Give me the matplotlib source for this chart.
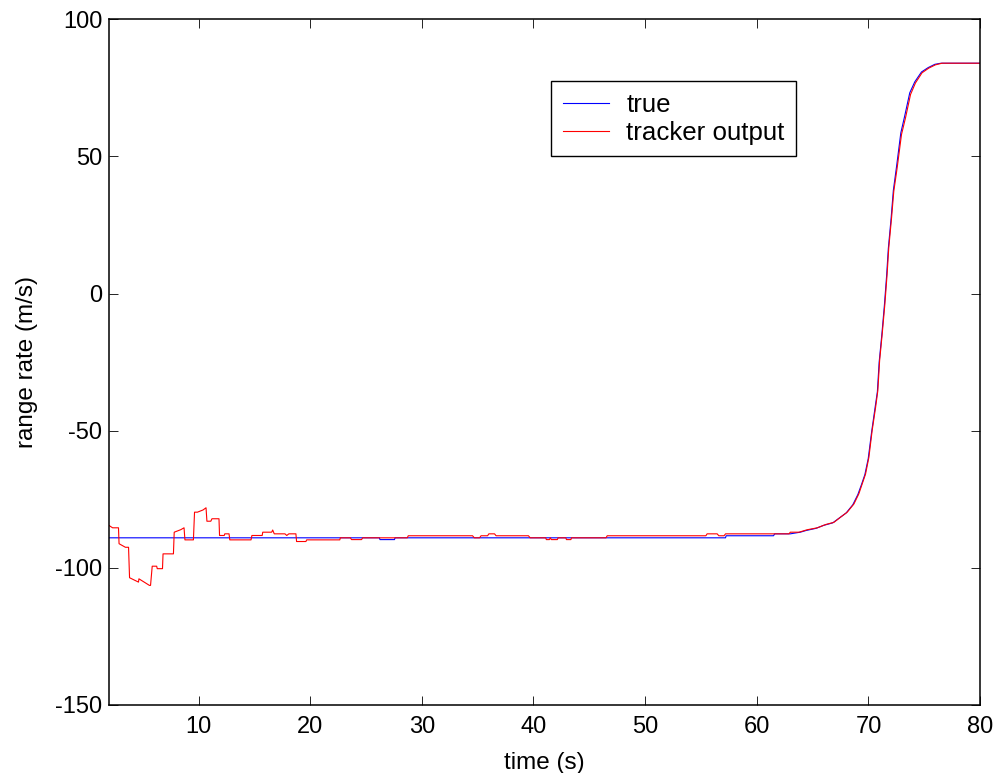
import matplotlib
matplotlib.use("Agg")
import matplotlib.pyplot as plt

plt.rcParams['font.family'] = ['Liberation Sans', 'DejaVu Sans']
plt.rcParams['axes.unicode_minus'] = False

# tracker output (time s, range rate m/s)
t_track = [2.0, 2.3, 2.83, 2.88, 3.45, 3.73, 3.82, 4.62, 4.66, 5.6, 5.7, 5.85, 6.25, 6.3, 6.77, 6.82,
           7.75, 7.82, 8.4, 8.7, 8.78, 9.54, 9.64, 9.9, 10.4, 10.67, 10.75, 11.1, 11.2, 11.83, 11.88,
           12.3, 12.35, 12.73, 12.8, 14.70, 14.78, 15.70, 15.75, 16.55, 16.64, 16.78, 17.74, 17.9,
           18.09, 18.72, 18.78, 19.62, 19.68, 22.65, 22.7, 23.6, 23.7, 24.6, 24.7, 28.7, 28.78, 34.54,
           34.7, 35.17, 35.3, 35.89, 36.0, 36.51, 36.65, 39.55, 39.7, 41.1, 41.15, 41.43, 41.5, 41.6,
           42.14, 42.2, 42.9, 42.95, 43.35, 43.4, 46.5, 46.6, 55.44, 55.55, 56.45, 56.6, 57.07, 57.2,
           62.89, 63.0, 63.78, 64.52, 65.42, 66.17, 66.91, 67.51, 68.10, 68.70, 69.14, 69.44, 69.74,
           70.04, 70.33, 70.64, 70.84, 71.0, 71.23, 71.47, 71.67, 71.82, 72.07, 72.27, 72.57, 72.96,
           73.32, 73.77, 74.21, 74.80, 75.40, 76.0, 76.59, 80.0]
r_track = [-84.6, -85.4, -85.4, -91.2, -92.5, -92.5, -103.6, -105.2, -104.0, -106.4, -106.4, -99.4,
           -99.4, -100.3, -100.3, -94.9, -94.9, -87.0, -86.1, -85.4, -89.8, -89.8, -79.7, -79.7,
           -78.9, -78.1, -83.0, -83.0, -82.1, -82.1, -88.2, -88.2, -87.6, -87.6, -89.8, -89.8, -88.2,
           -88.2, -87.0, -87.0, -86.2, -87.6, -87.6, -88.2, -87.6, -87.6, -90.4, -90.4, -89.8, -89.8,
           -89.05, -89.05, -89.7, -89.7, -89.05, -89.05, -88.3, -88.3, -89.05, -89.05, -88.3, -88.3,
           -87.6, -87.6, -88.3, -88.3, -89.05, -89.05, -89.7, -89.7, -89.05, -89.7, -89.7, -89.05,
           -89.05, -89.7, -89.7, -89.05, -89.05, -88.3, -88.3, -87.6, -87.6, -88.3, -88.3, -87.6,
           -87.6, -87.0, -87.0, -86.1, -85.4, -84.2, -83.4, -81.5, -79.7, -76.7, -73.0, -69.4, -65.8,
           -59.7, -50.0, -41.5, -35.4, -24.5, -14.8, -3.9, 7.0, 16.7, 27.6, 37.3, 45.8, 58.0,
           64.1, 72.6, 76.8, 80.5, 82.2, 83.4, 84.0, 84.0]

# true range rate
t_true = [2.0, 26.2, 26.25, 27.55, 27.6, 57.2, 57.25, 61.5, 61.6, 63.0, 63.9, 64.4, 65.3, 66.0, 66.8,
          67.4, 68.0, 68.6, 69.05, 69.38, 69.68, 69.98, 70.28, 70.58, 70.8, 70.96, 71.2, 71.43, 71.63,
          71.78, 72.03, 72.23, 72.52, 72.9, 73.25, 73.7, 74.15, 74.75, 75.35, 75.95, 76.5, 80.0]
r_true = [-89.05, -89.05, -89.7, -89.7, -89.05, -89.05, -88.3, -88.3, -87.6, -87.6, -87.0, -86.4,
          -85.6, -84.5, -83.6, -81.8, -80.0, -77.0, -73.3, -69.6, -66.0, -60.2, -50.6, -42.0, -35.8,
          -25.0, -15.0, -4.2, 6.6, 16.4, 27.4, 37.6, 46.4, 58.6, 64.8, 73.2, 77.2, 80.8, 82.4, 83.6,
          84.0, 84.0]

x_ticks = [10, 20, 30, 40, 50, 60, 70, 80]
y_ticks = [-150, -100, -50, 0, 50, 100]

fig = plt.figure(figsize=(9.93, 7.73), dpi=100)
ax = fig.add_axes([0.110, 0.088, 0.877, 0.887])

ax.plot(t_true, r_true, color='#0000FF', lw=0.8, label='true')
ax.plot(t_track, r_track, color='#FF0000', lw=0.8, label='tracker output')

ax.set_xlim(2, 80)
ax.set_ylim(-150, 100)
ax.set_xticks(x_ticks)
ax.set_yticks(y_ticks)
ax.tick_params(direction='in', length=6.5, width=0.6, top=True, right=True,
               labelsize=17, colors='black')
ax.tick_params(axis='x', pad=8)
ax.tick_params(axis='y', pad=5)
for s in ax.spines.values():
    s.set_linewidth(1.1)
    s.set_color('black')

ax.set_xlabel('time (s)', fontsize=17.5, labelpad=10)
ax.set_ylabel('range rate (m/s)', fontsize=17.5, labelpad=12)

leg = ax.legend(loc='upper left', bbox_to_anchor=(0.5076, 0.9096), fontsize=18.6,
                frameon=True, fancybox=False, shadow=False, framealpha=1,
                edgecolor='black', borderaxespad=0, borderpad=0.45,
                handlelength=1.8, handletextpad=0.65, labelspacing=0.15)
leg.get_frame().set_linewidth(1.0)
for line in leg.get_lines():
    line.set_linewidth(0.8)

fig.savefig('out.png', dpi=100)
